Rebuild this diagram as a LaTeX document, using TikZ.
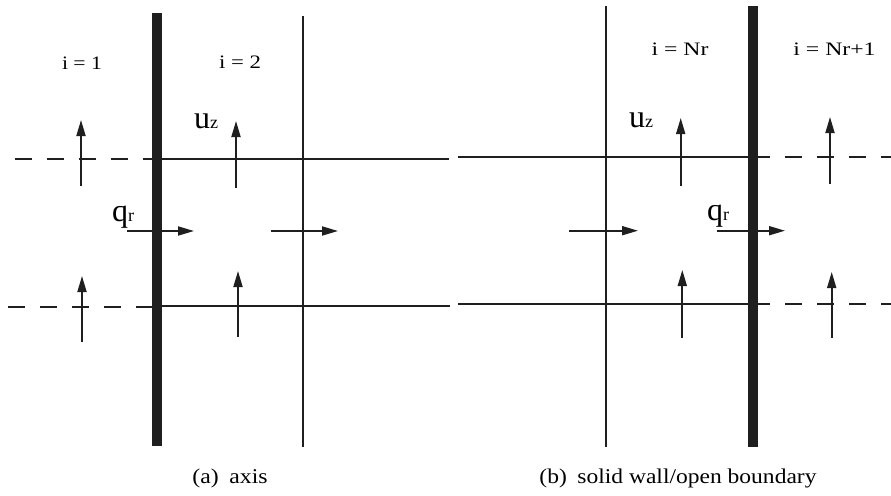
\documentclass[tikz,border=0pt]{standalone}
\usepackage{fontspec}
\setmainfont{Liberation Serif}
\usetikzlibrary{arrows.meta}
\tikzset{
  thin line/.style={line width=1.8pt, color=black!88},
  dash line/.style={line width=1.8pt, color=black!88, dash pattern=on 17pt off 15pt},
  wall/.style={fill=black!88, draw=none},
  vec/.style={line width=1.8pt, color=black!88, -{Triangle[length=16pt,width=9pt]}},
  lbl/.style={inner sep=0pt, anchor=base, font=\fontsize{19}{23}\selectfont},
  captext/.style={inner sep=0pt, font=\fontsize{21}{25}\selectfont, anchor=base},
  sym/.style={inner sep=0pt, anchor=base west}
}
\newcommand{\bigsym}[2]{{\fontsize{32}{34}\selectfont #1}{\fontsize{18}{20}\selectfont #2}}
\newcommand{\wide}[2]{\scalebox{#1}[1]{#2}}
\begin{document}
\begin{tikzpicture}[x=1pt,y=-1pt]
\useasboundingbox (0,0) rectangle (891,495);
% ---------------- panel (a) ----------------
\coordinate (aUL) at (15,159.3);   \coordinate (aUW) at (152,159.3);
\coordinate (aUS) at (161,159.3);  \coordinate (aUE) at (449,159.3);
\coordinate (aLL) at (8,307.3);    \coordinate (aLW) at (152,307.3);
\coordinate (aLS) at (162,306);    \coordinate (aLE) at (450,306);
\draw[dash line] (aUL) -- (aUW);
\draw[dash line] (aLL) -- (aLW);
\draw[thin line] (aUS) -- (aUE);
\draw[thin line] (aLS) -- (aLE);
\coordinate (aVt) at (302.7,16); \coordinate (aVb) at (302.7,447);
\draw[thin line] (aVt) -- (aVb);
\fill[wall] (152,13) rectangle (161.5,446);
% arrows
\coordinate (a1s) at (81,186);  \coordinate (a1t) at (81,120);
\coordinate (a2s) at (236,188); \coordinate (a2t) at (236,121);
\coordinate (a3s) at (82,342);  \coordinate (a3t) at (82,276);
\coordinate (a4s) at (238,337); \coordinate (a4t) at (238,271);
\coordinate (a5s) at (127,231); \coordinate (a5t) at (194,231);
\coordinate (a6s) at (271,231); \coordinate (a6t) at (338,231);
\draw[vec] (a1s) -- (a1t);
\draw[vec] (a2s) -- (a2t);
\draw[vec] (a3s) -- (a3t);
\draw[vec] (a4s) -- (a4t);
\draw[vec] (a5s) -- (a5t);
\draw[vec] (a6s) -- (a6t);
\node[lbl] (ti1) at (82,70) {\wide{1.14}{i = 1}};
\node[lbl] (ti2) at (240,69) {\wide{1.2}{i = 2}};
\node[sym] (uzA) at (194,128) {\bigsym{u}{z}};
\node[sym] (qrA) at (112,221) {\bigsym{q}{r}};
\node[captext] (capA) at (230,483.5) {\wide{1.13}{(a)\hspace{0.45em}axis}};
% ---------------- panel (b) ----------------
\coordinate (bUS) at (458,156.7); \coordinate (bUE) at (770,156.7);
\coordinate (bUD) at (785,156.7); \coordinate (bUR) at (891,156.7);
\coordinate (bLS) at (458,304.3); \coordinate (bLE) at (770,304.3);
\coordinate (bLD) at (785,304.3); \coordinate (bLR) at (891,304.3);
\draw[thin line] (bUS) -- (bUE);
\draw[thin line] (bLS) -- (bLE);
\draw[dash line] (bUD) -- (bUR);
\draw[dash line] (bLD) -- (bLR);
\coordinate (bVt) at (606,6); \coordinate (bVb) at (606,447);
\draw[thin line] (bVt) -- (bVb);
\fill[wall] (748.3,6) rectangle (758.3,447);
\coordinate (b1s) at (680.7,186); \coordinate (b1t) at (680.7,118);
\coordinate (b2s) at (830,184);   \coordinate (b2t) at (830,117);
\coordinate (b3s) at (682.3,338); \coordinate (b3t) at (682.3,270);
\coordinate (b4s) at (831.7,338); \coordinate (b4t) at (831.7,272);
\coordinate (b5s) at (569,230.7); \coordinate (b5t) at (638,230.7);
\coordinate (b6s) at (716.7,230.7); \coordinate (b6t) at (785,230.7);
\draw[vec] (b1s) -- (b1t);
\draw[vec] (b2s) -- (b2t);
\draw[vec] (b3s) -- (b3t);
\draw[vec] (b4s) -- (b4t);
\draw[vec] (b5s) -- (b5t);
\draw[vec] (b6s) -- (b6t);
\node[lbl] (tiN) at (680,56) {\wide{1.25}{i = Nr}};
\node[lbl] (tiN1) at (834.5,56) {\wide{1.25}{i = Nr+1}};
\node[sym] (uzB) at (629,127) {\bigsym{u}{z}};
\node[sym] (qrB) at (707,220) {\bigsym{q}{r}};
\node[captext] (capB) at (678,483) {\wide{1.12}{(b)\hspace{0.45em}solid wall/open boundary}};
\end{tikzpicture}
\end{document}
